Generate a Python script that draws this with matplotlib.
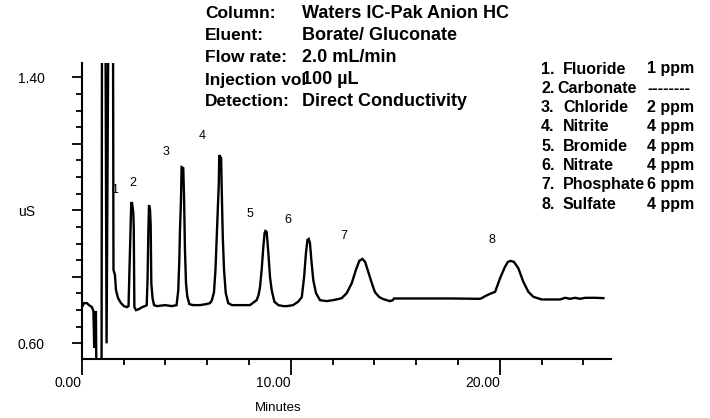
import matplotlib
matplotlib.use("Agg")
import matplotlib.pyplot as plt
from matplotlib.ticker import MultipleLocator, FixedLocator

plt.rcParams['font.family'] = ['Liberation Sans', 'DejaVu Sans']

# ---- data ----
time_min = [0.01, 0.11, 0.25, 0.35, 0.49, 0.56, 0.60, 0.64, 0.68, 0.70, 0.95, 0.97, 1.14, 1.19, 1.27, 1.50,
            1.52, 1.59, 1.64, 1.74, 1.88, 2.02, 2.17,
            2.24, 2.27, 2.31, 2.34, 2.37, 2.41, 2.47, 2.49, 2.52, 2.60, 2.74, 2.89, 3.03,
            3.11, 3.15, 3.19, 3.22, 3.27, 3.30, 3.33, 3.39, 3.46, 3.60, 3.99, 4.32, 4.54,
            4.62, 4.67, 4.70, 4.75, 4.78, 4.86, 4.90, 4.94, 4.99, 5.05, 5.15, 5.33, 5.66, 5.95, 6.14,
            6.23, 6.33, 6.40, 6.46, 6.51, 6.56, 6.58, 6.67, 6.70, 6.75, 6.81, 6.89, 7.01, 7.19,
            7.57, 8.05,
            8.37, 8.46, 8.53, 8.61, 8.69, 8.75, 8.79, 8.85, 8.93, 9.01, 9.09, 9.22, 9.41, 9.65, 9.82,
            10.11, 10.35, 10.53, 10.64, 10.73, 10.80, 10.86, 10.92, 11.00, 11.08, 11.21, 11.40, 11.72, 12.02, 12.26,
            12.44, 12.68, 12.92, 13.12, 13.28, 13.43, 13.56, 13.71, 13.88, 14.03, 14.24, 14.43, 14.75, 14.89, 14.94,
            16.19, 17.62, 19.05,
            19.14, 19.30, 19.54, 19.78, 20.01, 20.25, 20.39, 20.53, 20.68, 20.89, 21.13, 21.37, 21.61, 22.01,
            22.89, 23.13, 23.37, 23.61, 23.85, 24.09, 24.57, 24.96]
signal_uS = [0.709, 0.721, 0.721, 0.715, 0.709, 0.697, 0.586, 0.694, 0.694, 0.53, 0.53, 1.51, 1.51, 0.60, 1.51, 1.51,
             0.821, 0.806, 0.760, 0.736, 0.721, 0.712, 0.709,
             0.712, 0.781, 0.881, 0.950, 1.022, 1.022, 0.992, 0.950, 0.709, 0.700, 0.703, 0.709, 0.712,
             0.715, 0.790, 0.941, 1.016, 1.001, 0.956, 0.781, 0.736, 0.715, 0.712, 0.715, 0.712, 0.715,
             0.760, 0.850, 0.935, 1.031, 1.130, 1.127, 1.031, 0.881, 0.781, 0.742, 0.718, 0.715, 0.715, 0.718, 0.721,
             0.730, 0.754, 0.821, 0.920, 1.001, 1.082, 1.166, 1.157, 1.061, 0.920, 0.821, 0.752, 0.721, 0.715,
             0.715, 0.715,
             0.730, 0.745, 0.769, 0.821, 0.890, 0.932, 0.938, 0.935, 0.872, 0.799, 0.760, 0.725, 0.715, 0.712, 0.712,
             0.715, 0.725, 0.739, 0.799, 0.872, 0.911, 0.914, 0.902, 0.842, 0.790, 0.751, 0.730, 0.727, 0.730, 0.733,
             0.736, 0.751, 0.781, 0.821, 0.848, 0.854, 0.845, 0.815, 0.781, 0.754, 0.739, 0.733, 0.727, 0.730, 0.735,
             0.735, 0.735, 0.734,
             0.736, 0.742, 0.749, 0.755, 0.795, 0.830, 0.845, 0.848, 0.845, 0.826, 0.785, 0.755, 0.740, 0.732,
             0.732, 0.737, 0.734, 0.737, 0.734, 0.737, 0.737, 0.736]

peak_labels = ["1", "2", "3", "4", "5", "6", "7", "8"]
peak_label_t = [1.55, 2.43, 4.03, 5.76, 8.05, 9.87, 12.55, 19.63]
peak_label_v = [1.060, 1.081, 1.175, 1.224, 0.989, 0.971, 0.923, 0.911]

header_keys = ["Column:", "Eluent:", "Flow rate:", "Injection vol", "Detection:"]
header_vals = ["Waters IC-Pak Anion HC", "Borate/ Gluconate", "2.0 mL/min", "100 \u00b5L", "Direct Conductivity"]

legend_nums = ["1.", "2.", "3.", "4.", "5.", "6.", "7.", "8."]
legend_names = ["Fluoride", "Carbonate", "Chloride", "Nitrite", "Bromide", "Nitrate", "Phosphate", "Sulfate"]
legend_amounts = ["1 ppm", "--------", "2 ppm", "4 ppm", "4 ppm", "4 ppm", "6 ppm", "4 ppm"]

y_major = [0.60, 0.80, 1.00, 1.20, 1.40]
y_major_labels = ["0.60", "", "uS", "", "1.40"]
x_major = [0, 10, 20]
x_major_labels = ["0.00", "10.00", "20.00"]

W, H = 710, 418
fig = plt.figure(figsize=(W / 100, H / 100), dpi=100)
left_px, right_px, top_px, bot_px = 81.7, 610.5, 62.7, 359
ax = fig.add_axes([left_px / W, 1 - bot_px / H, (right_px - left_px) / W, (bot_px - top_px) / H])

ax.plot(time_min, signal_uS, color='black', lw=1.7, solid_joinstyle='miter')
ax.set_xlim(0, 25.3)
ax.set_ylim(0.553, 1.444)

for s in ['top', 'right']:
    ax.spines[s].set_visible(False)
for s in ['left', 'bottom']:
    ax.spines[s].set_linewidth(1.5)

ax.yaxis.set_major_locator(FixedLocator(y_major))
ax.set_yticklabels(y_major_labels)
ax.yaxis.set_minor_locator(MultipleLocator(0.05))
ax.xaxis.set_major_locator(FixedLocator(x_major))
ax.set_xticklabels(x_major_labels)
ax.xaxis.set_minor_locator(MultipleLocator(2))

ax.tick_params(axis='y', which='major', length=7.5, width=1.3, direction='out', pad=38.5, labelsize=10)
ax.tick_params(axis='y', which='minor', length=4.3, width=1.3, direction='out')
ax.tick_params(axis='x', which='major', length=11.5, width=1.3, direction='out', pad=0.5, labelsize=10)
ax.tick_params(axis='x', which='minor', length=4.3, width=1.3, direction='out')
for lab in ax.get_yticklabels():
    lab.set_horizontalalignment('left')
for lab in ax.get_xticklabels():
    lab.set_horizontalalignment('right')

for lab, t, v in zip(peak_labels, peak_label_t, peak_label_v):
    ax.text(t, v, lab, ha='center', va='center', fontsize=9)

fig.text(278 / W, 1 - 408 / H, "Minutes", ha='center', va='center', fontsize=9.5)

header_rows = [14, 36, 58, 80, 102]
for k, v, y in zip(header_keys, header_vals, header_rows):
    fig.text(205 / W, 1 - y / H, k, ha='left', va='center', fontsize=12.5, fontweight='bold')
    fig.text(302 / W, 1 - y / H, v, ha='left', va='center', fontsize=13, fontweight='bold')

for i, (n, name, amt) in enumerate(zip(legend_nums, legend_names, legend_amounts)):
    y = 1 - (69 + 19.3 * i) / H
    fig.text(541 / W, y, n, ha='left', va='center', fontsize=11.5, fontweight='bold')
    nx = 557 if name == "Carbonate" else 563
    fig.text(nx / W, y, name, ha='left', va='center', fontsize=11.5, fontweight='bold')
    fig.text(647 / W, y, amt, ha='left', va='center', fontsize=11.5, fontweight='bold')

fig.savefig("out.png", dpi=100)
